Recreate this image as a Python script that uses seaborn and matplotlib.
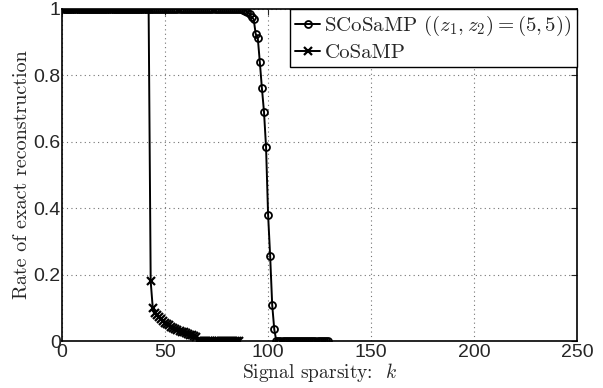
import numpy as np
import pandas as pd
import seaborn as sns
import matplotlib
import matplotlib.pyplot as plt

matplotlib.use('Agg')

# sparsity levels and success rates
k_scosamp = list(range(1, 130))
rate_scosamp = ([1.0] * 87 +
                [0.998, 0.995, 0.99, 0.985, 0.975, 0.969, 0.924, 0.912, 0.839,
                 0.761, 0.691, 0.585, 0.38, 0.256, 0.108, 0.035] +
                [0.0] * 26)

k_cosamp = list(range(1, 87))
rate_cosamp = ([1.0] * 42 +
               [0.18, 0.10, 0.085, 0.078, 0.072, 0.065, 0.06, 0.055, 0.05,
                0.047, 0.043, 0.04, 0.036, 0.033, 0.03, 0.028, 0.026, 0.023,
                0.021, 0.019, 0.017, 0.015, 0.012] +
               [0.0] * 21)

xticks = [0, 50, 100, 150, 200, 250]
yticks = [0, 0.2, 0.4, 0.6, 0.8, 1]
ytick_labels = ["0", "0.2", "0.4", "0.6", "0.8", "1"]

sns.set_style("white")
plt.rcParams['font.family'] = ['Liberation Sans', 'DejaVu Sans']
plt.rcParams['mathtext.fontset'] = 'cm'
plt.rcParams['axes.unicode_minus'] = False

fig = plt.figure(figsize=(6.03, 3.88), dpi=100)
ax = fig.add_axes([0.103, 0.121, 0.854, 0.856])

sns.lineplot(x=k_scosamp, y=rate_scosamp, ax=ax, color='k', lw=1.4,
             marker='o', markersize=5, markerfacecolor='none',
             markeredgecolor='k', markeredgewidth=1.3,
             label=r"SCoSaMP $((z_1, z_2) = (5, 5))$")
sns.lineplot(x=k_cosamp, y=rate_cosamp, ax=ax, color='k', lw=1.4,
             marker='x', markersize=5.5, markeredgecolor='k',
             markeredgewidth=1.6, label="CoSaMP")

ax.set_xlim(0, 250)
ax.set_ylim(0, 1)
ax.set_xticks(xticks)
ax.set_yticks(yticks)
ax.set_yticklabels(ytick_labels)
ax.tick_params(direction='in', labelsize=14, top=True, right=True,
               length=4, width=0.8, pad=1)
ax.tick_params(axis='x', pad=2)
ax.grid(True, linestyle=(0, (1, 3)), color='0.45', linewidth=0.8)
for s in ax.spines.values():
    s.set_color('k')
    s.set_linewidth(1.2)

ax.set_xlabel(r"Signal sparsity:  $k$", fontsize=14, labelpad=0,
              family='cmr10')
ax.set_ylabel("Rate of exact reconstruction", fontsize=14.5,
              labelpad=2, family='cmr10')

leg = ax.legend(loc='upper right', bbox_to_anchor=(1.0, 1.0),
                prop={'family': 'cmr10', 'size': 15},
                frameon=True, fancybox=False, edgecolor='k',
                borderaxespad=0, handlelength=1.2, handletextpad=0.2,
                borderpad=0.25, labelspacing=0.25)
leg.get_frame().set_linewidth(1.0)
leg.get_frame().set_alpha(1)

fig.savefig("out.png", dpi=100)
